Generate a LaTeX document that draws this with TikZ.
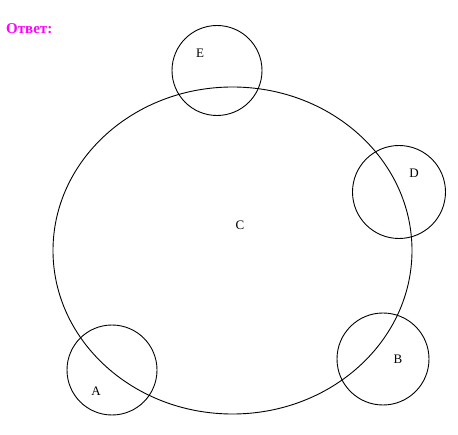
\documentclass[tikz,border=0pt]{standalone}
\usepackage{fontspec}
\setmainfont{Liberation Serif}
\usepackage{tikz}
\usetikzlibrary{shapes.geometric, positioning}

\definecolor{answer}{RGB}{255,0,255}

\begin{document}
\begin{tikzpicture}[x=1pt, y=1pt,
        set/.style={draw, line width=0.9pt, inner sep=0pt},
        setname/.style={font=\fontsize{13}{15}\selectfont, inner sep=0pt}]
        \useasboundingbox (0,0) rectangle (458,434);

        \node (title) [anchor=west, text=answer, inner sep=0pt,
            font=\fontsize{15}{17}\selectfont\bfseries] at (6,405) {Ответ:};

        % big set and the small ones
        \node (C) [set, ellipse, minimum width=359pt, minimum height=327pt] at (232.5,183.5) {};
        \node (E) [set, circle, minimum size=90pt] at (217,363.5) {};
        \node (D) [set, circle, minimum size=93pt] at (399,242) {};
        \node (B) [set, circle, minimum size=92pt] at (383,75) {};
        \node (A) [set, circle, minimum size=90pt] at (112,64) {};

        \node (labC) [setname] at (240,209) {C};
        \node (labE) [setname] at (200,381) {E};
        \node (labD) [setname] at (414,261) {D};
        \node (labB) [setname] at (398,75) {B};
        \node (labA) [setname] at (96,43) {A};

    \end{tikzpicture}
\end{document}
